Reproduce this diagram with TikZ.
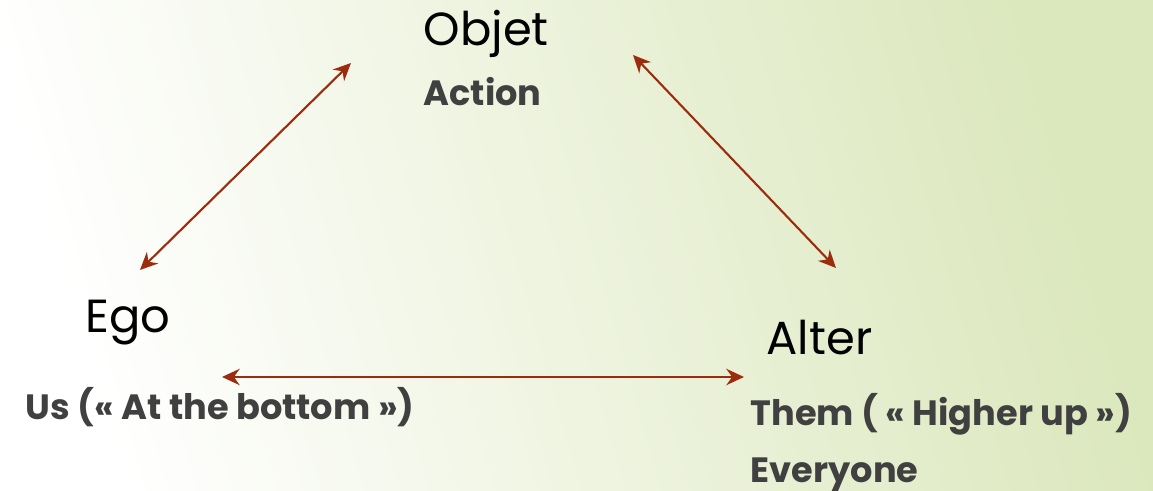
\documentclass[tikz,border=0pt]{standalone}
\usepackage{fontspec}
\setmainfont{Poppins}
\usetikzlibrary{arrows.meta}
\definecolor{arrowred}{RGB}{155,45,14}
\definecolor{labelgray}{RGB}{64,64,64}
\definecolor{bggreen}{RGB}{219,231,188}
\tikzset{
  title/.style={anchor=base west, inner sep=0pt, font=\fontsize{13.2pt}{15pt}\selectfont, text=black},
  sub/.style={anchor=base west, inner sep=0pt, font=\bfseries\fontsize{10pt}{12pt}\selectfont, text=labelgray},
  link/.style={arrowred, line width=0.6pt, {Stealth[length=5pt,width=4.6pt]}-{Stealth[length=5pt,width=4.6pt]}}
}
\begin{document}
\begin{tikzpicture}[x=0.01cm,y=-0.01cm]
\useasboundingbox (0,0) rectangle (1153,491);
\shade[top color=bggreen, bottom color=white, shading angle=-74] (0,0) rectangle (1153,491);
\node[title] (objet) at (423,46) {Objet};
\node[sub] (action) at (423,106) {Action};
\node[title] (ego) at (85,333) {Ego};
\node[sub] (us) at (25,420) {Us (« At the bottom »)};
\node[title] (alter) at (766,355) {Alter};
\node[sub] (them) at (750,426) {Them ( « Higher up »)};
\node[sub] (every) at (750,483) {Everyone};
\coordinate (l1) at (140,270);
\coordinate (l2) at (351,63);
\coordinate (r1) at (633,55);
\coordinate (r2) at (836,268);
\coordinate (b1) at (222,377);
\coordinate (b2) at (744,377);
\draw[link] (l1) -- (l2);
\draw[link] (r1) -- (r2);
\draw[link, line width=0.85pt] (b1) -- (b2);
\end{tikzpicture}
\end{document}
